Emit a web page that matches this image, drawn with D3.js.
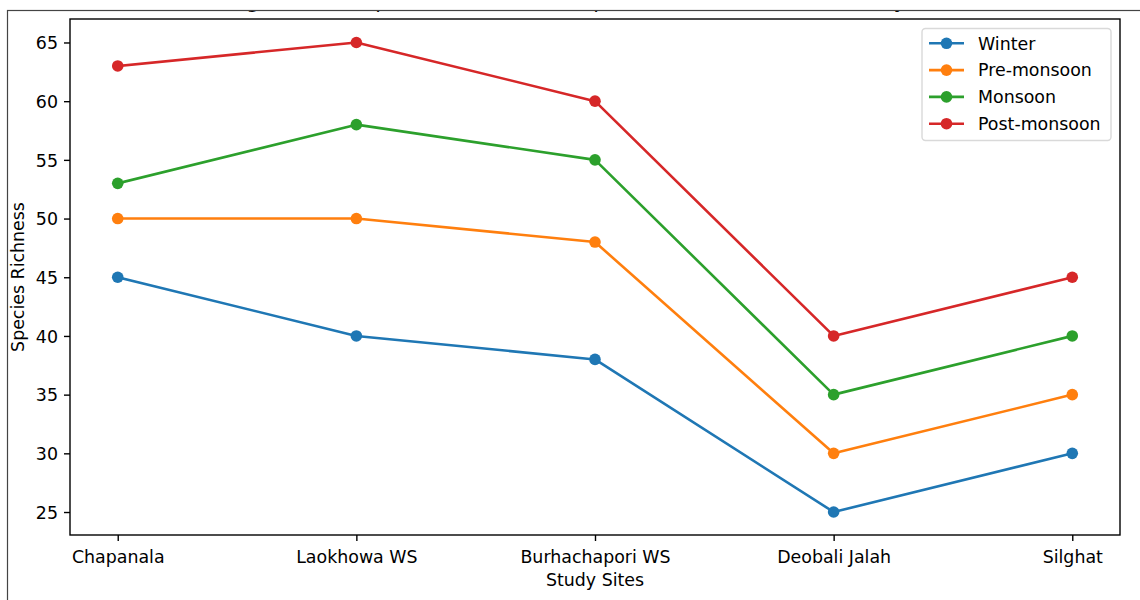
<!DOCTYPE html>
<html>
<head>
<meta charset="utf-8">
<script src="https://cdn.jsdelivr.net/npm/d3@7"></script>
<style>
  html, body { margin: 0; padding: 0; background: #fff; }
  svg { display: block; font-family: "DejaVu Sans", sans-serif; }
</style>
</head>
<body>
<svg id="chart" width="1140" height="600"></svg>
<script>
const sites = ["Chapanala", "Laokhowa WS", "Burhachapori WS", "Deobali Jalah", "Silghat"];
const seasons = ["Winter", "Pre-monsoon", "Monsoon", "Post-monsoon"];
const winter = [45, 40, 38, 25, 30];
const preMonsoon = [50, 50, 48, 30, 35];
const monsoon = [53, 58, 55, 35, 40];
const postMonsoon = [63, 65, 60, 40, 45];
const yTicks = [25, 30, 35, 40, 45, 50, 55, 60, 65];
const colors = ["#1f77b4", "#ff7f0e", "#2ca02c", "#d62728"];
const titleText = "Changes in Bird Species Richness Comparison Across Different Study Sites";

const seriesValues = [winter, preMonsoon, monsoon, postMonsoon];
const series = seasons.map((name, i) => ({ name, values: seriesValues[i], color: colors[i] }));

const svg = d3.select("#chart");
const pLeft = 70, pRight = 1120, pTop = 19, pBottom = 535;
const fs = 17.4;

const x = d3.scaleLinear().domain([-0.2, sites.length - 1 + 0.2]).range([pLeft, pRight]);
const y = d3.scaleLinear().domain([23, 67]).range([pBottom + 0.5, pTop]);

// clipped title (only descenders visible)
svg.append("text")
  .attr("x", 578).attr("y", 8)
  .attr("text-anchor", "middle")
  .attr("font-size", 20.6)
  .attr("fill", "#000")
  .text(titleText);
svg.append("rect").attr("x", 0).attr("y", 0).attr("width", 1140).attr("height", 10).attr("fill", "#fff");

// outer frame
svg.append("rect")
  .attr("x", 7.5).attr("y", 10.5).attr("width", 1150).attr("height", 620)
  .attr("fill", "none").attr("stroke", "#444").attr("stroke-width", 1.2);

// axes
const xAxis = d3.axisBottom(x).tickValues(d3.range(sites.length)).tickFormat(i => sites[i])
  .tickSizeInner(6).tickSizeOuter(0).tickPadding(6);
const yAxis = d3.axisLeft(y).tickValues(yTicks).tickSizeInner(6).tickSizeOuter(0).tickPadding(6);

const gx = svg.append("g").attr("transform", `translate(0,${pBottom})`).call(xAxis);
const gy = svg.append("g").attr("transform", `translate(${pLeft},0)`).call(yAxis);
[gx, gy].forEach(g => {
  g.select(".domain").remove();
  g.selectAll(".tick line").attr("stroke", "#000").attr("stroke-width", 1.4);
  g.selectAll(".tick text").attr("font-size", fs).attr("fill", "#000")
    .attr("font-family", "DejaVu Sans, sans-serif");
});
gx.selectAll(".tick text").attr("dy", null).attr("y", 27.5);
gy.selectAll(".tick text").attr("dy", "0.36em");

// series
const line = d3.line().x((d, i) => x(i)).y(d => y(d));
series.forEach(s => {
  const g = svg.append("g");
  g.append("path").attr("d", line(s.values))
    .attr("fill", "none").attr("stroke", s.color).attr("stroke-width", 2.6)
    .attr("stroke-linejoin", "round").attr("stroke-linecap", "square");
  g.selectAll("circle").data(s.values).join("circle")
    .attr("cx", (d, i) => x(i)).attr("cy", d => y(d)).attr("r", 5.8)
    .attr("fill", s.color);
});

// spines
svg.append("rect").attr("x", pLeft).attr("y", pTop).attr("width", pRight - pLeft).attr("height", pBottom - pTop)
  .attr("fill", "none").attr("stroke", "#000").attr("stroke-width", 1.4);

// axis labels
svg.append("text").attr("x", (pLeft + pRight) / 2).attr("y", 586)
  .attr("text-anchor", "middle").attr("font-size", fs).text("Study Sites");
svg.append("text").attr("transform", `translate(24,${(pTop + pBottom) / 2}) rotate(-90)`)
  .attr("text-anchor", "middle").attr("font-size", fs).text("Species Richness");

// legend
const lg = svg.append("g");
lg.append("rect").attr("x", 922).attr("y", 28.5).attr("width", 189).attr("height", 112)
  .attr("rx", 3.5).attr("fill", "#fff").attr("fill-opacity", 0.8)
  .attr("stroke", "#d9d9d9").attr("stroke-width", 1.4);
const rowY = i => 43.3 + i * 26.8;
series.forEach((s, i) => {
  const yy = rowY(i);
  lg.append("line").attr("x1", 929).attr("x2", 964).attr("y1", yy).attr("y2", yy)
    .attr("stroke", s.color).attr("stroke-width", 2.6);
  lg.append("circle").attr("cx", 946.5).attr("cy", yy).attr("r", 5.8).attr("fill", s.color);
  lg.append("text").attr("x", 978).attr("y", yy).attr("dy", "0.36em")
    .attr("font-size", fs).text(s.name);
});
</script>
</body>
</html>
